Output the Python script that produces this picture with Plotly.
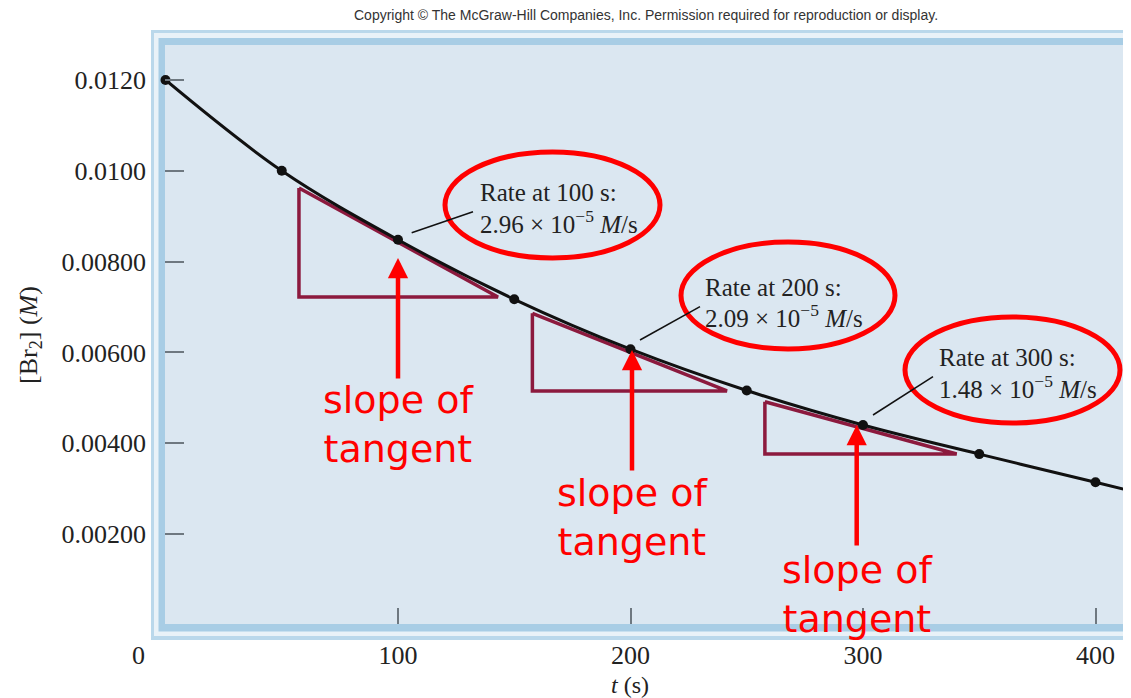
import plotly.graph_objects as go

# concentration of Br2
times = [0, 50, 100, 150, 200, 250, 300, 350, 400]
conc = [0.0120, 0.0100, 0.00848, 0.00717, 0.00607, 0.00516, 0.00440, 0.00376, 0.00314]
# the drawn curve runs on to the edge of the panel
curve_t = times + [413.5]
curve_c = conc + [0.00297]

# tangent triangles: left leg time, right end time, top and base concentration
tan_t0 = [57.4, 157.8, 257.8]
tan_t1 = [143.0, 241.5, 340.3]
tan_top = [0.009621, 0.006861, 0.004914]
tan_base = [0.007220, 0.005150, 0.003762]

rate_times = ["100", "200", "300"]
rate_values = ["2.96", "2.09", "1.48"]

y_ticks = [0.002, 0.004, 0.006, 0.008, 0.010, 0.012]
y_labels = ["0.00200", "0.00400", "0.00600", "0.00800", "0.0100", "0.0120"]
x_ticks = [100, 200, 300, 400]
x_labels = ["100", "200", "300", "400"]

# the page puts the figure 8px in from the corner, so the figure is 8px smaller
OFF = 8
W, H = 1131 - OFF, 698 - OFF
L, R, T, B = 165 - OFF, 4, 45 - OFF, 74


def tx(px):
    return (px - 165.5) / 2.325


def cy(py):
    return (624.8 - py) / 45400


def xp(px):
    return (px - OFF - L) / (W - L - R)


def yp(py):
    return (H - B - (py - OFF)) / (H - T - B)


SERIF = "Liberation Serif"
RED = "#ff0000"
MAROON = "#8c1a3e"
INK = "#222222"

fig = go.Figure()

for a, b, top, base in zip(tan_t0, tan_t1, tan_top, tan_base):
    fig.add_trace(go.Scatter(
        x=[a, a, b, a], y=[top, base, base, top], mode="lines",
        line=dict(color=MAROON, width=3.5), hoverinfo="skip", showlegend=False,
    ))

fig.add_trace(go.Scatter(
    x=curve_t, y=curve_c, mode="lines", line=dict(color="#111111", width=3, shape="spline"),
    showlegend=False,
))
fig.add_trace(go.Scatter(
    x=times, y=conc, mode="markers", marker=dict(color="#111111", size=10),
    showlegend=False, cliponaxis=False,
))

shapes = []
# light blue frame around the panel
frame = [(151, 1140, 640, 30, "#bad8eb"),
         (154, 1134, 636, 33, "#e9f2f8"),
         (158.5, 1131, 631.5, 38, "#a8cde5"),
         (165, 1127, 624, 45, "#dbe7f1")]
for x0, x1, y0, y1, col in frame:
    shapes.append(dict(type="rect", xref="paper", yref="paper", layer="below",
                       x0=xp(x0), x1=xp(x1), y0=yp(y0), y1=yp(y1),
                       fillcolor=col, line_width=0))

# red ellipses
ell = [(445, 660, 152, 258), (681, 895, 242, 349), (905, 1120, 317, 423)]
for x0, x1, y0, y1 in ell:
    shapes.append(dict(type="circle", xref="x", yref="y",
                       x0=tx(x0), x1=tx(x1), y0=cy(y1), y1=cy(y0),
                       line=dict(color=RED, width=5)))

# leader lines
leaders = [(411.7, 232.7, 473, 211.7), (640, 340, 700, 306.7), (873, 415, 933, 376.7)]
for x0, y0, x1, y1 in leaders:
    shapes.append(dict(type="line", xref="x", yref="y",
                       x0=tx(x0), y0=cy(y0), x1=tx(x1), y1=cy(y1),
                       line=dict(color="#111111", width=1.5)))

ann = []
text_left = [478, 703, 937]
base1 = [200.7, 295, 365]
base2 = [230, 324, 395]
for i in range(3):
    ann.append(dict(x=tx(text_left[i]), y=cy(base1[i] - 8), xref="x", yref="y",
                    text="Rate at %s s:" % rate_times[i], showarrow=False,
                    xanchor="left", yanchor="middle",
                    font=dict(family=SERIF, size=25, color=INK)))
    ann.append(dict(x=tx(text_left[i]), y=cy(base2[i] - 8), xref="x", yref="y",
                    text="%s × 10<sup>−5</sup> <i>M</i>/s" % rate_values[i], showarrow=False,
                    xanchor="left", yanchor="middle",
                    font=dict(family=SERIF, size=25, color=INK)))

# red arrows and "slope of tangent"
tips = [(398, 258), (632, 350), (856.7, 425)]
labels = [(398, 424), (632, 517), (857, 594)]
for (ax_, ay_), (lx, ly) in zip(tips, labels):
    ann.append(dict(x=tx(ax_), y=cy(ay_), xref="x", yref="y", text="",
                    showarrow=True, ax=0, ay=122, arrowcolor=RED, arrowwidth=4.5,
                    arrowhead=2, arrowsize=0.9, standoff=0))
    ann.append(dict(x=tx(lx), y=cy(ly), xref="x", yref="y",
                    text="slope of<br>tangent", showarrow=False,
                    xanchor="center", yanchor="middle",
                    font=dict(family="DejaVu Sans", size=38, color=RED)))

ann.append(dict(x=xp(138.5), y=yp(655), xref="paper", yref="paper", text="0",
                xanchor="center", yanchor="middle", showarrow=False,
                font=dict(family=SERIF, size=26, color=INK)))
ann.append(dict(x=xp(630), y=yp(685), xref="paper", yref="paper", text="<i>t</i> (s)",
                xanchor="center", yanchor="middle", showarrow=False,
                font=dict(family=SERIF, size=24, color=INK)))
ann.append(dict(x=xp(30), y=yp(335), xref="paper", yref="paper",
                text="[Br<sub>2</sub>] (<i>M</i>)", textangle=-90,
                xanchor="center", yanchor="middle", showarrow=False,
                font=dict(family=SERIF, size=26, color=INK)))
ann.append(dict(x=xp(646), y=yp(15), xref="paper", yref="paper",
                text="Copyright © The McGraw-Hill Companies, Inc. Permission required for reproduction or display.",
                xanchor="center", yanchor="middle", showarrow=False,
                font=dict(family="Liberation Sans", size=14, color="#333333")))

fig.update_layout(
    width=W, height=H,
    margin=dict(l=L, r=R, t=T, b=B, pad=0),
    paper_bgcolor="white",
    plot_bgcolor="#dbe7f1",
    shapes=shapes,
    annotations=ann,
    showlegend=False,
    xaxis=dict(range=[tx(165), tx(1127)], tickvals=x_ticks, ticktext=x_labels,
               ticks="inside", ticklen=16, tickwidth=2, tickcolor="#6e7880",
               showgrid=False, zeroline=False, showline=False,
               tickfont=dict(family=SERIF, size=26, color=INK),
               ticklabelstandoff=13),
    yaxis=dict(range=[cy(624), cy(45)], tickvals=y_ticks, ticktext=y_labels,
               ticks="inside", ticklen=19, tickwidth=2, tickcolor="#6e7880",
               showgrid=False, zeroline=False, showline=False,
               tickfont=dict(family=SERIF, size=26, color=INK),
               ticklabelstandoff=18),
)

fig.write_html("out.html")
